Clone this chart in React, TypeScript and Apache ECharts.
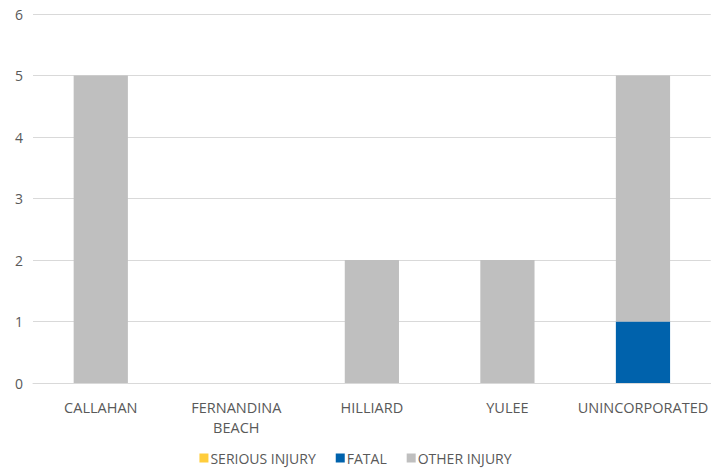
import React, { useEffect, useRef } from "react";
import * as echarts from "echarts";

const categories = ["CALLAHAN", "FERNANDINA\nBEACH", "HILLIARD", "YULEE", "UNINCORPORATED"];
const seriousInjury = [0, 0, 0, 0, 0];
const fatal = [0, 0, 0, 0, 1];
const otherInjury = [5, 0, 2, 2, 4];
const yTicks = { min: 0, max: 6, interval: 1 };

const FONT = "'Open Sans', 'Liberation Sans', sans-serif";

export default function App() {
  const ref = useRef<HTMLDivElement>(null);
  useEffect(() => {
    if (!ref.current) return;
    const chart = echarts.init(ref.current, undefined, { renderer: "svg" });
    chart.setOption({
      animation: false,
      textStyle: { fontFamily: FONT },
      grid: { left: 33, top: 14, width: 680, height: 369, containLabel: false },
      legend: {
        top: 449,
        padding: 0,
        left: "center",
        itemWidth: 9,
        itemHeight: 9,
        itemGap: 20,
        icon: "rect",
        textStyle: { color: "#595959", fontSize: 14, lineHeight: 18, fontFamily: FONT, padding: [0, 0, 0, -3] },
        data: ["SERIOUS INJURY", "FATAL", "OTHER INJURY"],
      },
      xAxis: {
        type: "category",
        data: categories,
        axisLine: { lineStyle: { color: "#d9d9d9", width: 1 } },
        axisTick: { show: false },
        axisLabel: { color: "#595959", fontSize: 14.5, margin: 14, lineHeight: 20, fontFamily: FONT, interval: 0 },
      },
      yAxis: {
        type: "value",
        min: yTicks.min,
        max: yTicks.max,
        interval: yTicks.interval,
        axisLine: { show: false },
        axisTick: { show: false },
        splitLine: { lineStyle: { color: "#d9d9d9", width: 1 } },
        axisLabel: { color: "#595959", fontSize: 14, margin: 10, fontFamily: FONT },
      },
      series: [
        { name: "SERIOUS INJURY", type: "bar", stack: "t", data: seriousInjury, barWidth: "40%", itemStyle: { color: "#FFCD3C" } },
        { name: "FATAL", type: "bar", stack: "t", data: fatal, barWidth: "40%", itemStyle: { color: "#0062AC" } },
        { name: "OTHER INJURY", type: "bar", stack: "t", data: otherInjury, barWidth: "40%", itemStyle: { color: "#BFBFBF" } },
      ],
    });
    return () => chart.dispose();
  }, []);
  return <div ref={ref} style={{ position: "absolute", left: 0, top: 0, width: 711, height: 468 }} />;
}
